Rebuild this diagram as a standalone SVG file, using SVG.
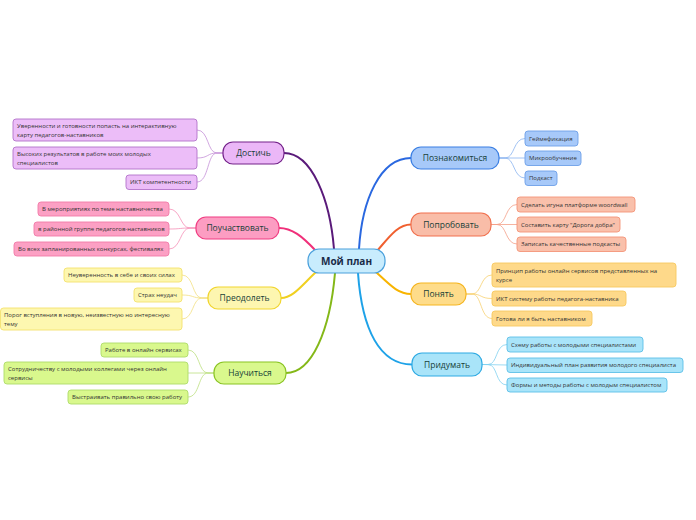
<svg xmlns="http://www.w3.org/2000/svg" width="696" height="520" viewBox="0 0 696 520">
<style>
.bg{fill:#ffffff}
.main{stroke-width:1.2}
.ch{stroke-width:0.9}
.mt{font-family:"Open Sans","Noto Sans",sans-serif;font-size:8.5px;fill:#173f38;text-anchor:middle}
.ct{font-family:"Open Sans","Noto Sans",sans-serif;font-size:6px;fill:#333333}
.root{font-family:"Open Sans","Noto Sans",sans-serif;font-size:10px;font-weight:bold;fill:#1a2b48;text-anchor:middle}
.mc{fill:none;stroke-width:2;stroke-linecap:round}
.cc{fill:none;stroke-width:0.8}
</style>
<rect class="bg" x="0" y="0" width="696" height="520"/>
<g id="connectors">
  <path class="mc" stroke="#2a68e0" d="M359 249 C362 200 380 158 411 158"/>
  <path class="mc" stroke="#f06030" d="M377 251 C390 236 398 224.5 411 224.5"/>
  <path class="mc" stroke="#f8b400" d="M376 272 C390 285 398 294 411 294"/>
  <path class="mc" stroke="#1ea2e8" d="M358 273 C362 330 380 364.5 412 364.5"/>
  <path class="mc" stroke="#5a1a7a" d="M334 249 C330 200 312 153 284 153"/>
  <path class="mc" stroke="#f0307a" d="M316 251 C302 236 292 228 279 228"/>
  <path class="mc" stroke="#f0d020" d="M316 272 C302 285 293 298 281 298"/>
  <path class="mc" stroke="#84b818" d="M335 273 C330 330 312 373 286 373"/>

  <g stroke="#8ab4f0">
    <path class="cc" d="M499 158 L505 158 C515 158 513 138.5 525 138.5"/>
    <path class="cc" d="M499 158 L525 158"/>
    <path class="cc" d="M499 158 L505 158 C515 158 513 178 525 178"/>
  </g>
  <g stroke="#f4a088">
    <path class="cc" d="M491 224.5 L497 224.5 C507 224.5 505 204.5 517 204.5"/>
    <path class="cc" d="M491 224.5 L517 224.5"/>
    <path class="cc" d="M491 224.5 L497 224.5 C507 224.5 505 244 517 244"/>
  </g>
  <g stroke="#f8d070">
    <path class="cc" d="M466 294 L472 294 C482 294 480 275 492 275"/>
    <path class="cc" d="M466 294 L472 294 C482 294 480 298.5 492 298.5"/>
    <path class="cc" d="M466 294 L472 294 C482 294 480 318.5 492 318.5"/>
  </g>
  <g stroke="#80d0f0">
    <path class="cc" d="M482 364.5 L488 364.5 C498 364.5 495 344.5 507 344.5"/>
    <path class="cc" d="M482 364.5 L507 365"/>
    <path class="cc" d="M482 364.5 L488 364.5 C498 364.5 495 385 507 385"/>
  </g>
  <g stroke="#c590d8">
    <path class="cc" d="M223 153 L217 153 C207 153 209 130 197 130"/>
    <path class="cc" d="M223 153 L217 153 C207 153 209 158 197 158"/>
    <path class="cc" d="M223 153 L217 153 C207 153 209 182 197 182"/>
  </g>
  <g stroke="#f590b8">
    <path class="cc" d="M196 228 L190 228 C180 228 181 209 169 209"/>
    <path class="cc" d="M196 228 L190 228 C180 228 181 229 169 229"/>
    <path class="cc" d="M196 228 L190 228 C180 228 181 249 169 249"/>
  </g>
  <g stroke="#f2e080">
    <path class="cc" d="M208 298 L202 298 C192 298 194 275 182 275"/>
    <path class="cc" d="M208 298 L202 298 C192 298 194 295 182 295"/>
    <path class="cc" d="M208 298 L202 298 C192 298 194 319 182 319"/>
  </g>
  <g stroke="#bde080">
    <path class="cc" d="M214 373 L208 373 C198 373 200 350 188 350"/>
    <path class="cc" d="M214 373 L188 373"/>
    <path class="cc" d="M214 373 L208 373 C198 373 200 397 188 397"/>
  </g>
</g>

<g id="root">
  <rect x="308" y="249" width="77" height="24" rx="11" fill="#c8ecfd" stroke="#4aa0dc" stroke-width="1.2"/>
  <text class="root" x="346.5" y="264.5">Мой план</text>
</g>

<g id="n-poznakomitsya">
  <rect class="main" x="411" y="147" width="88" height="22" rx="10" fill="#a7c9f9" stroke="#3b7fe3"/>
  <text class="mt" x="455" y="161">Познакомиться</text>
</g>
<g id="n-geim"><rect class="ch" x="525" y="131" width="53" height="15" rx="3" fill="#a7c9f9" stroke="#6d9fe8"/><text class="ct" x="529" y="140.5">Геймефикация</text></g>
<g id="n-mikro"><rect class="ch" x="525" y="151" width="56" height="14.5" rx="3" fill="#a7c9f9" stroke="#6d9fe8"/><text class="ct" x="529" y="160.3">Микрообучение</text></g>
<g id="n-podkast"><rect class="ch" x="525" y="171" width="32" height="14.5" rx="3" fill="#a7c9f9" stroke="#6d9fe8"/><text class="ct" x="529" y="180.3">Подкаст</text></g>

<g id="n-poprobovat">
  <rect class="main" x="411" y="213" width="80" height="23" rx="10" fill="#f9bda8" stroke="#f1714f"/>
  <text class="mt" x="451" y="227.5">Попробовать</text>
</g>
<g id="n-igra"><rect class="ch" x="517" y="197" width="118" height="15" rx="3" fill="#f9c0ab" stroke="#f49478"/><text class="ct" x="521" y="206.5">Сделать игуна платформе woordwall</text></g>
<g id="n-karta"><rect class="ch" x="517" y="217" width="103" height="15" rx="3" fill="#f9c0ab" stroke="#f49478"/><text class="ct" x="521" y="226.5">Составить карту "Дорога добра"</text></g>
<g id="n-zapisat"><rect class="ch" x="517" y="237" width="109" height="14.5" rx="3" fill="#f9c0ab" stroke="#f49478"/><text class="ct" x="521" y="246.3">Записать качественные подкасты</text></g>

<g id="n-ponyat">
  <rect class="main" x="411" y="283" width="55" height="22" rx="10" fill="#fedc8a" stroke="#f5b520"/>
  <text class="mt" x="438.5" y="297">Понять</text>
</g>
<g id="n-princip"><rect class="ch" x="492" y="263" width="184" height="24" rx="3" fill="#fed98a" stroke="#f7c860"/><text class="ct" x="496" y="272.5">Принцип работы онлайн сервисов представленных на</text><text class="ct" x="496" y="281.5">курсе</text></g>
<g id="n-ikt-sist"><rect class="ch" x="492" y="291" width="134" height="15" rx="3" fill="#fed98a" stroke="#f7c860"/><text class="ct" x="496" y="300.5">ИКТ систему работы педагога-наставника</text></g>
<g id="n-gotova"><rect class="ch" x="492" y="311" width="100" height="15" rx="3" fill="#fed98a" stroke="#f7c860"/><text class="ct" x="496" y="320.5">Готова ли я быть наставником</text></g>

<g id="n-pridumat">
  <rect class="main" x="412" y="353" width="70" height="23" rx="10" fill="#a9e4f9" stroke="#2eaae3"/>
  <text class="mt" x="447" y="367.5">Придумать</text>
</g>
<g id="n-shema"><rect class="ch" x="507" y="337" width="136" height="15" rx="3" fill="#a9e4f9" stroke="#5cbfe8"/><text class="ct" x="511" y="346.5">Схему работы с молодыми специалистами</text></g>
<g id="n-plan"><rect class="ch" x="507" y="358" width="176" height="14.5" rx="3" fill="#a9e4f9" stroke="#5cbfe8"/><text class="ct" x="511" y="367.3">Индивидуальный план развития молодого специалиста</text></g>
<g id="n-formy"><rect class="ch" x="507" y="378" width="160" height="14" rx="3" fill="#a9e4f9" stroke="#5cbfe8"/><text class="ct" x="511" y="387">Формы и методы работы с молодым специалистом</text></g>

<g id="n-dostich">
  <rect class="main" x="223" y="142" width="61" height="22" rx="10" fill="#ebb7f7" stroke="#74228a"/>
  <text class="mt" x="253.5" y="156">Достичь</text>
</g>
<g id="n-uver"><rect class="ch" x="13" y="119" width="184" height="22" rx="3" fill="#ecbdf8" stroke="#b273c9"/><text class="ct" x="17" y="128">Уверенности и готовности попасть на интерактивную</text><text class="ct" x="17" y="137">карту педагогов-наставников</text></g>
<g id="n-vysok"><rect class="ch" x="13" y="147" width="184" height="22" rx="3" fill="#ecbdf8" stroke="#b273c9"/><text class="ct" x="17" y="156">Высоких результатов в работе моих молодых</text><text class="ct" x="17" y="165">специалистов</text></g>
<g id="n-ikt-komp"><rect class="ch" x="126" y="175" width="71" height="14.5" rx="3" fill="#ecbdf8" stroke="#b273c9"/><text class="ct" x="130" y="184.3">ИКТ компетентности</text></g>

<g id="n-pouch">
  <rect class="main" x="196" y="217" width="83" height="22" rx="10" fill="#fc9dc2" stroke="#f03d82"/>
  <text class="mt" x="237.5" y="231">Поучаствовать</text>
</g>
<g id="n-meropr"><rect class="ch" x="38" y="202" width="131" height="14" rx="3" fill="#fca0c4" stroke="#f27aa8"/><text class="ct" x="42" y="211">В мероприятиях по теме наставничества</text></g>
<g id="n-raion"><rect class="ch" x="34" y="222" width="135" height="14" rx="3" fill="#fca0c4" stroke="#f27aa8"/><text class="ct" x="38" y="231">в районной группе педагогов-наставников</text></g>
<g id="n-konk"><rect class="ch" x="14" y="242" width="155" height="14" rx="3" fill="#fca0c4" stroke="#f27aa8"/><text class="ct" x="18" y="251">Во всех запланированных конкурсах, фестивалях</text></g>

<g id="n-preodolet">
  <rect class="main" x="208" y="287" width="73" height="22" rx="10" fill="#fdf6b0" stroke="#f1d52e"/>
  <text class="mt" x="244.5" y="301">Преодолеть</text>
</g>
<g id="n-neuver"><rect class="ch" x="64" y="268" width="118" height="14" rx="3" fill="#fdf7b0" stroke="#f4e16e"/><text class="ct" x="68" y="277">Неуверенность в себе и своих силах</text></g>
<g id="n-strah"><rect class="ch" x="134" y="288" width="48" height="14" rx="3" fill="#fdf7b0" stroke="#f4e16e"/><text class="ct" x="138" y="297">Страх неудач</text></g>
<g id="n-porog"><rect class="ch" x="0.5" y="308" width="181.5" height="22" rx="3" fill="#fdf7b0" stroke="#f4e16e"/><text class="ct" x="4" y="317">Порог вступления в новую, неизвестную но интересную</text><text class="ct" x="4" y="326">тему</text></g>

<g id="n-nauch">
  <rect class="main" x="214" y="362" width="72" height="22" rx="10" fill="#d9f88d" stroke="#8ac423"/>
  <text class="mt" x="250" y="376">Научиться</text>
</g>
<g id="n-rabote"><rect class="ch" x="101" y="343" width="87" height="14" rx="3" fill="#d9f88d" stroke="#aedb6a"/><text class="ct" x="105" y="352">Работе в онлайн сервисах</text></g>
<g id="n-sotrud"><rect class="ch" x="4" y="362" width="184" height="22" rx="3" fill="#d9f88d" stroke="#aedb6a"/><text class="ct" x="8" y="371">Сотрудничеству с молодыми коллегами через онлайн</text><text class="ct" x="8" y="380">сервисы</text></g>
<g id="n-vystr"><rect class="ch" x="68" y="390" width="120" height="14" rx="3" fill="#d9f88d" stroke="#aedb6a"/><text class="ct" x="72" y="399">Выстраивать правильно свою работу</text></g>
</svg>
